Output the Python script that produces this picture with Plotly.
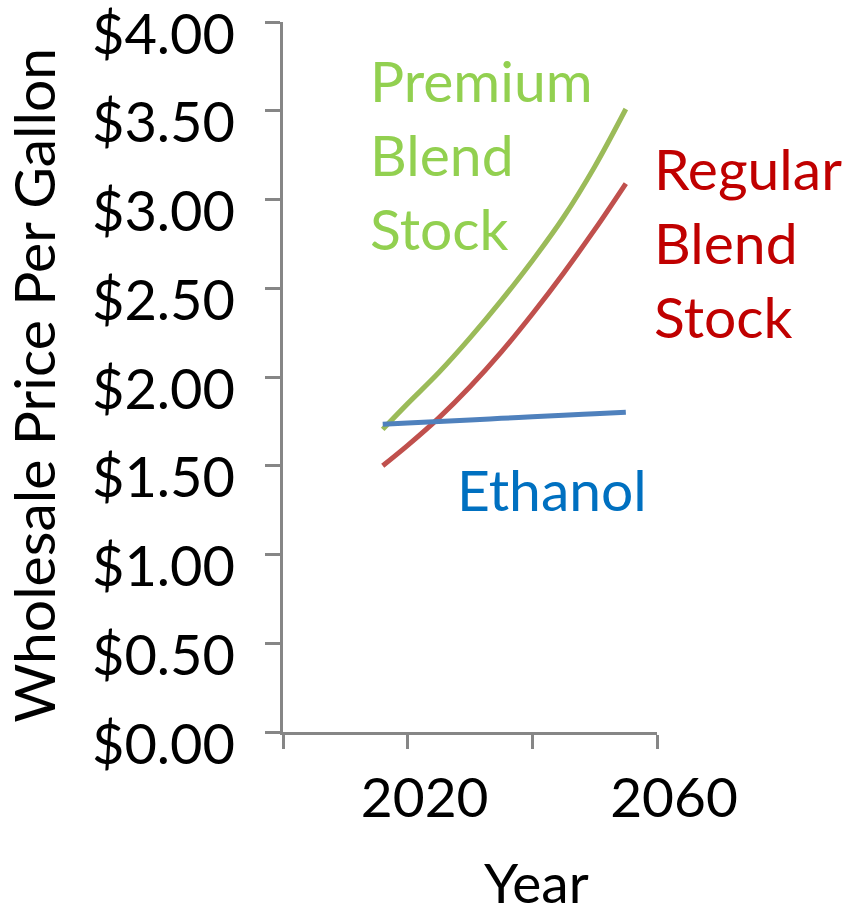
import plotly.graph_objects as go

# Projected wholesale prices (USD per gallon)
years = [2016, 2020, 2025, 2030, 2035, 2040, 2045, 2050, 2055]
premium_blend = [1.705, 1.85, 2.025, 2.22, 2.43, 2.655, 2.90, 3.185, 3.51]
regular_blend = [1.50, 1.615, 1.77, 1.945, 2.14, 2.355, 2.585, 2.83, 3.09]
ethanol = [1.734, 1.741, 1.750, 1.758, 1.767, 1.776, 1.784, 1.793, 1.802]

x_tick_vals = [2000, 2020, 2040, 2060]
x_tick_text = ["", "2020", "", "2060"]
y_tick_vals = [0, 0.5, 1.0, 1.5, 2.0, 2.5, 3.0, 3.5, 4.0]
y_tick_text = ["$0.00", "$0.50", "$1.00", "$1.50", "$2.00", "$2.50", "$3.00", "$3.50", "$4.00"]

FONT = "Lato"
AXIS_GRAY = "#868686"

fig = go.Figure()
series = [
    (premium_blend, "#9BBB59"),
    (regular_blend, "#C0504D"),
    (ethanol, "#4F81BD"),
]
for values, color in series:
    fig.add_trace(go.Scatter(
        x=years, y=values, mode="lines",
        line=dict(color=color, width=5, shape="spline", smoothing=1.0),
        showlegend=False, hoverinfo="skip",
    ))

# Direct labels for each series
series_labels = [
    ("Premium<br>Blend<br>Stock", "#92D050", 0.227, 3.256),
    ("Regular<br>Blend<br>Stock", "#C00000", 0.987, 2.758),
    ("Ethanol", "#0070C0", 0.459, 1.367),
]
for text, color, x, y in series_labels:
    fig.add_annotation(
        text=text, xref="paper", yref="y", x=x, y=y,
        xanchor="left", yanchor="middle", align="left", showarrow=False,
        font=dict(family=FONT, size=57, color=color),
    )

# Axis titles
fig.add_annotation(
    text="Wholesale Price Per Gallon", xref="paper", yref="paper",
    x=-0.667, y=0.4885, xanchor="center", yanchor="middle",
    textangle=-90, showarrow=False,
    font=dict(family=FONT, size=57, color="black"),
)
fig.add_annotation(
    text="Year", xref="paper", yref="paper",
    x=0.679, y=-0.211, xanchor="center", yanchor="middle",
    showarrow=False, font=dict(family=FONT, size=55, color="black"),
)

fig.update_xaxes(
    range=[2000, 2060], tickmode="array", tickvals=x_tick_vals, ticktext=x_tick_text,
    showgrid=False, zeroline=False, showline=True, linecolor=AXIS_GRAY, linewidth=2.5,
    ticks="outside", ticklen=14, tickwidth=2.5, tickcolor=AXIS_GRAY,
    tickfont=dict(family=FONT, size=55, color="black"),
    ticklabelshift=17, ticklabelstandoff=2, automargin=False,
)
fig.update_yaxes(
    range=[0, 4], tickmode="array", tickvals=y_tick_vals, ticktext=y_tick_text,
    showgrid=False, zeroline=False, showline=True, linecolor=AXIS_GRAY, linewidth=2.5,
    ticks="outside", ticklen=15, tickwidth=2.5, tickcolor=AXIS_GRAY,
    tickfont=dict(family=FONT, size=56, color="black"),
    ticklabelshift=12, ticklabelstandoff=19, ticklabeloverflow="allow",
    automargin=False,
)
fig.update_layout(
    width=846, height=916,
    margin=dict(l=283, r=189, t=22, b=184, autoexpand=False),
    plot_bgcolor="white", paper_bgcolor="white",
)

fig.write_html("out.html")
